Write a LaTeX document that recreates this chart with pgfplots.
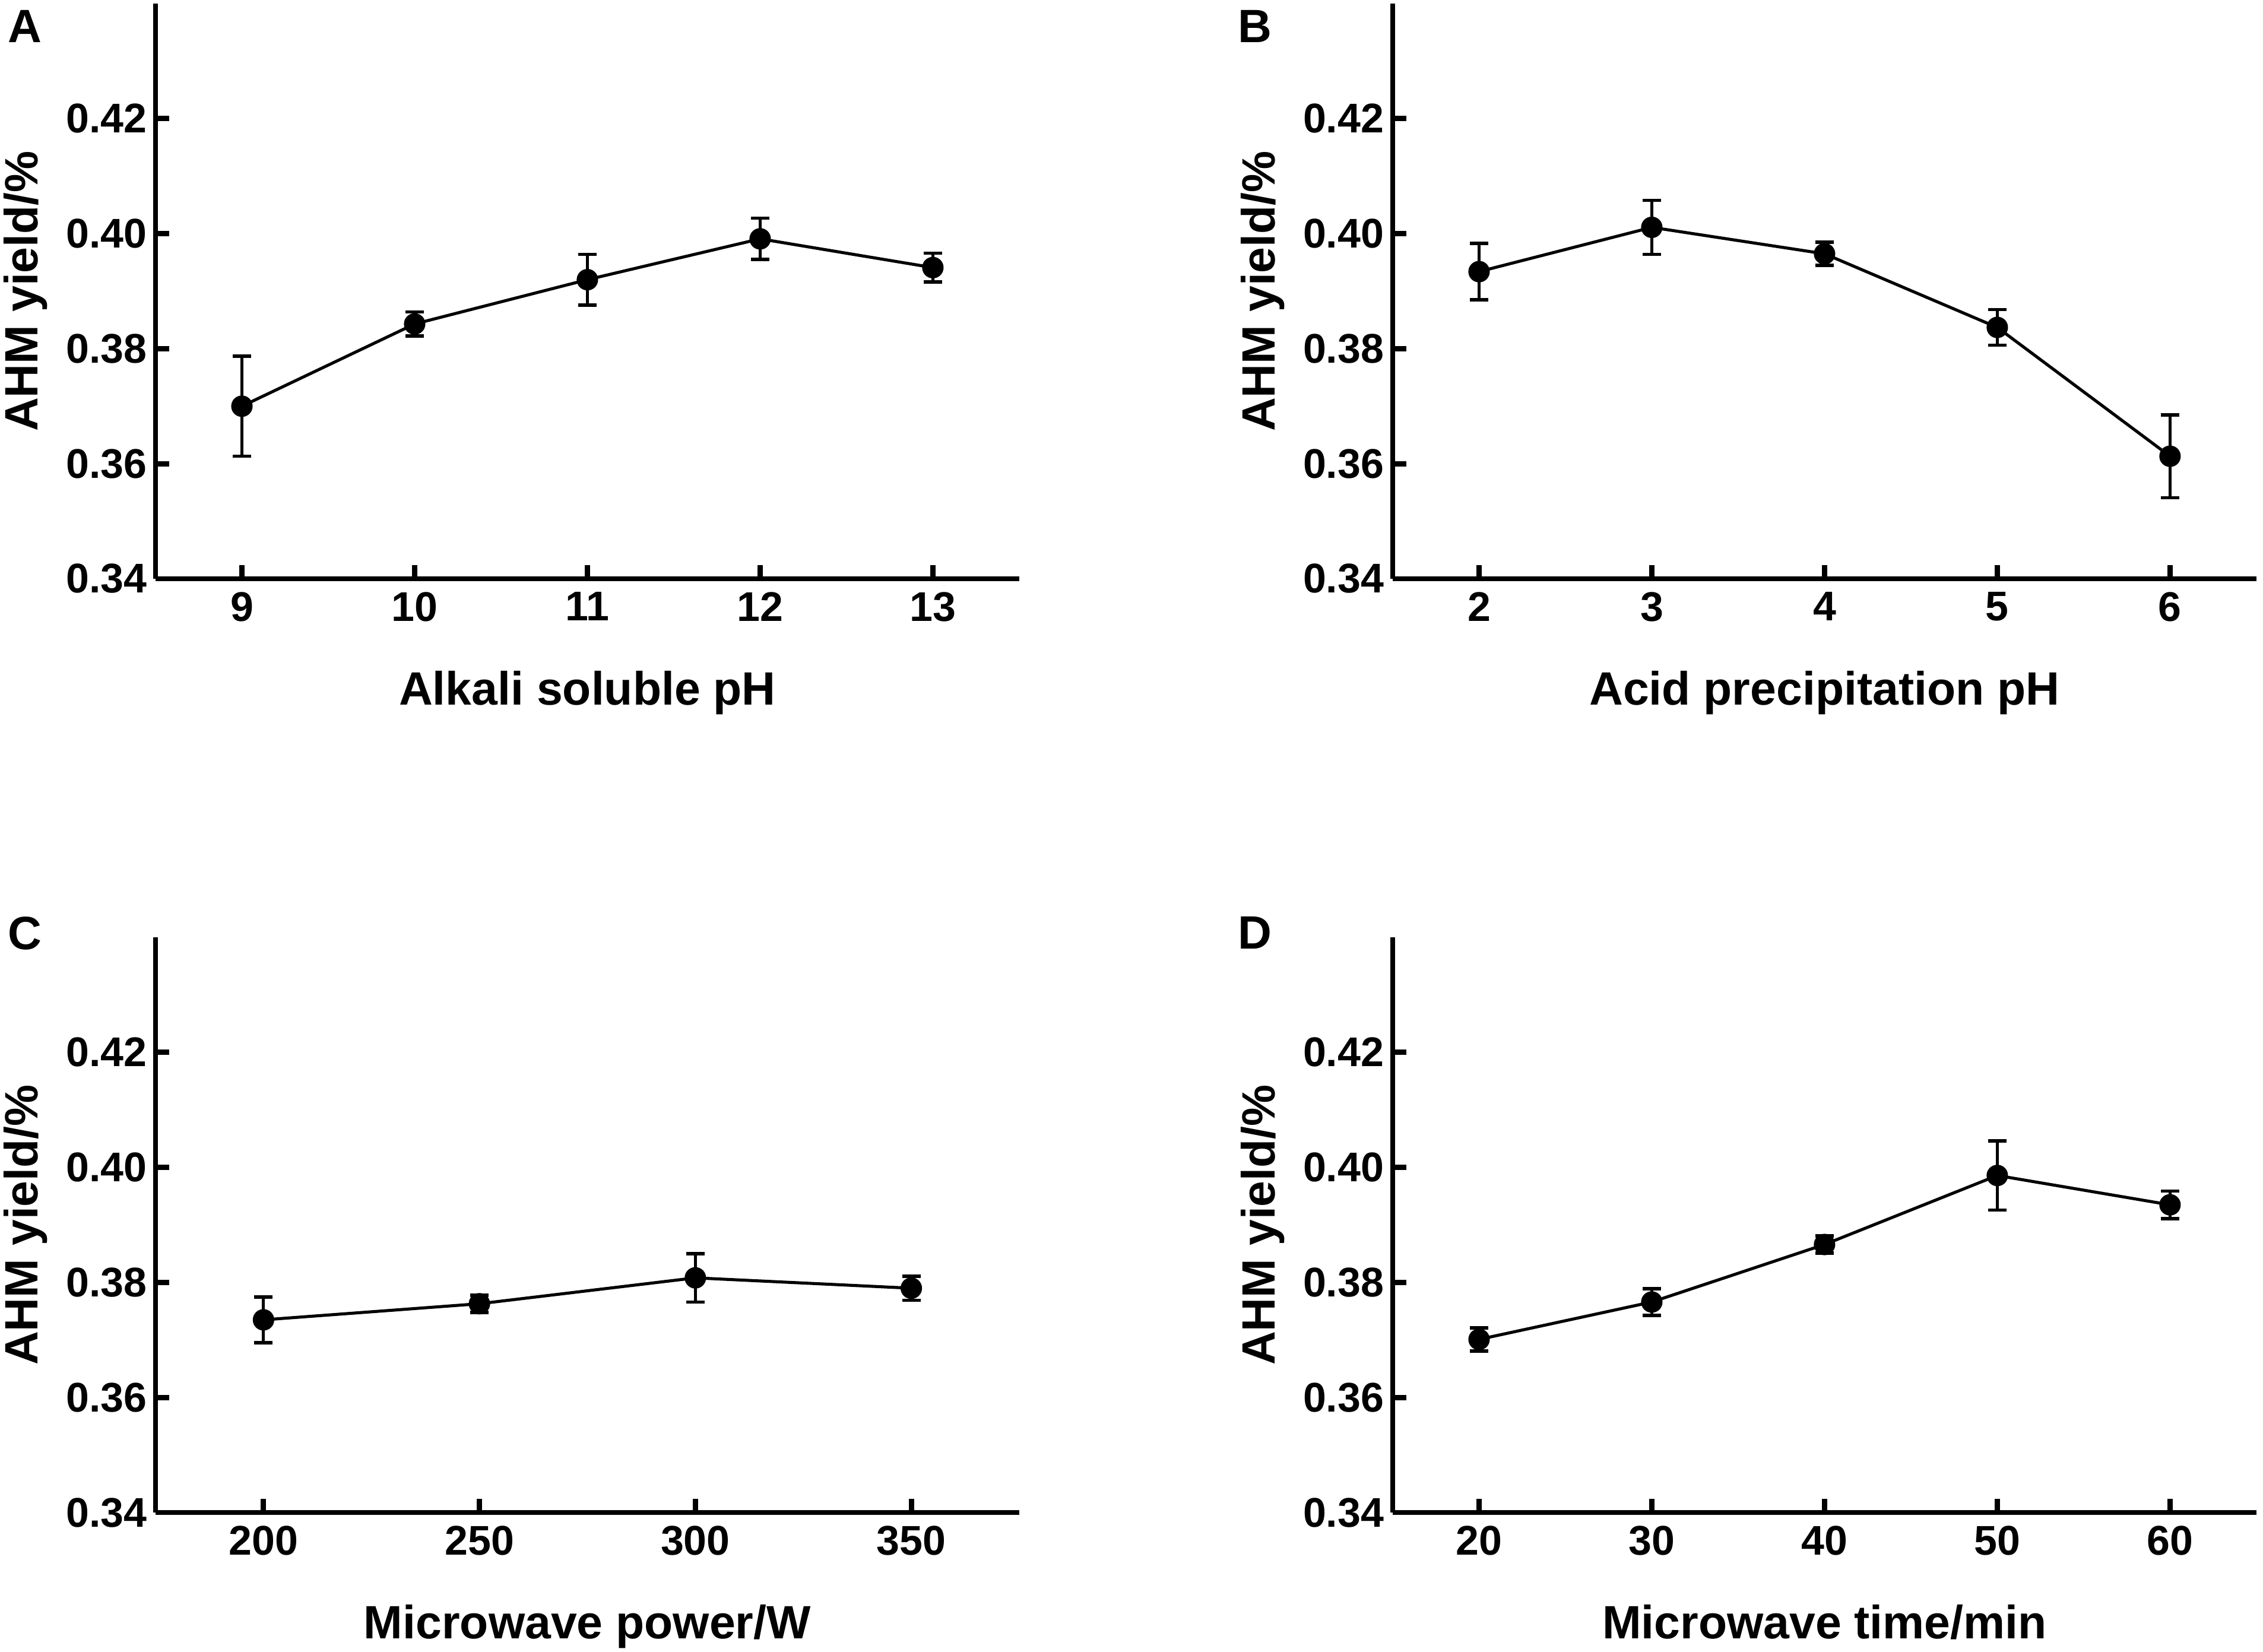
\documentclass[border=0pt]{standalone}
\usepackage{fontspec}
\setmainfont{Liberation Sans}
\usepackage{pgfplots}
\pgfplotsset{compat=1.18}

\pgfplotstableread{
x y e
9 0.3700 0.0087
10 0.3843 0.0021
11 0.3920 0.0044
12 0.3991 0.0036
13 0.3941 0.0025
}\tabA
\pgfplotstableread{
x y e
2 0.3934 0.0049
3 0.4011 0.0047
4 0.3965 0.0020
5 0.3837 0.0031
6 0.3613 0.0072
}\tabB
\pgfplotstableread{
x y e
200 0.3735 0.0040
250 0.3763 0.0015
300 0.3808 0.0042
350 0.3790 0.0021
}\tabC
\pgfplotstableread{
x y e
20 0.3701 0.0020
30 0.3766 0.0023
40 0.3866 0.0015
50 0.3986 0.0060
60 0.3935 0.0024
}\tabD

\pgfplotsset{
  ahm/.style={
    width=229pt, height=152.5pt, scale only axis,
    axis x line*=bottom, axis y line*=left,
    axis line style={line width=1.4pt, black},
    every tick/.style={line width=1.4pt, black},
    major tick length=3.6pt,
    tick align=inside,
    ymin=0.34, ymax=0.44, ytick={0.34,0.36,0.38,0.40,0.42},
    /pgf/number format/assume math mode=true,
    yticklabel style={/pgf/number format/fixed, /pgf/number format/fixed zerofill, /pgf/number format/precision=2, xshift=1.2pt},
    xticklabel style={/pgf/number format/fixed},
    scaled ticks=false,
    tick label style={font=\fontsize{11}{13}\selectfont\bfseries},
    label style={font=\fontsize{12.4}{15}\selectfont\bfseries, inner sep=0pt},
    xlabel style={at={(axis description cs:0.5,-0.1587)}, anchor=north},
    ylabel style={at={(axis description cs:-0.1764,0.5)}, anchor=north},
    ylabel={AHM yield/\%},
    clip=false,
  },
  ahmplot/.style={
    black, line width=0.8pt, mark=*, mark size=2.44pt,
    mark options={solid, fill=black},
    error bars/.cd, y dir=both, y explicit,
    error bar style={line width=0.8pt, black},
    error mark options={line width=0.9pt, mark size=2.44pt, black, rotate=90},
  },
}

\begin{document}
\begin{tikzpicture}
\useasboundingbox (0,0) rectangle (600pt,-438.04pt);

\begin{axis}[ahm, at={(41.24pt,-153.46pt)}, anchor=south west,
  xmin=8.5, xmax=13.5, xtick={9,10,11,12,13},
  xlabel={Alkali soluble pH}]
\addplot+[ahmplot] table[x=x, y=y, y error=e] {\tabA};
\end{axis}

\begin{axis}[ahm, at={(369.25pt,-153.46pt)}, anchor=south west,
  xmin=1.5, xmax=6.5, xtick={2,3,4,5,6},
  xlabel={Acid precipitation pH}]
\addplot+[ahmplot] table[x=x, y=y, y error=e] {\tabB};
\end{axis}

\begin{axis}[ahm, at={(41.24pt,-401.05pt)}, anchor=south west,
  xmin=175, xmax=375, xtick={200,250,300,350},
  xlabel={Microwave power/W}]
\addplot+[ahmplot] table[x=x, y=y, y error=e] {\tabC};
\end{axis}

\begin{axis}[ahm, at={(369.25pt,-401.05pt)}, anchor=south west,
  xmin=15, xmax=65, xtick={20,30,40,50,60},
  xlabel={Microwave time/min}]
\addplot+[ahmplot] table[x=x, y=y, y error=e] {\tabD};
\end{axis}

\node[anchor=north west, inner sep=0pt, font=\fontsize{12.4}{15}\selectfont\bfseries] at (1.89pt,-2.52pt) {A};
\node[anchor=north west, inner sep=0pt, font=\fontsize{12.4}{15}\selectfont\bfseries] at (328.0pt,-2.52pt) {B};
\node[anchor=north west, inner sep=0pt, font=\fontsize{12.4}{15}\selectfont\bfseries] at (1.89pt,-242.9pt) {C};
\node[anchor=north west, inner sep=0pt, font=\fontsize{12.4}{15}\selectfont\bfseries] at (328.0pt,-242.9pt) {D};
\end{tikzpicture}
\end{document}
